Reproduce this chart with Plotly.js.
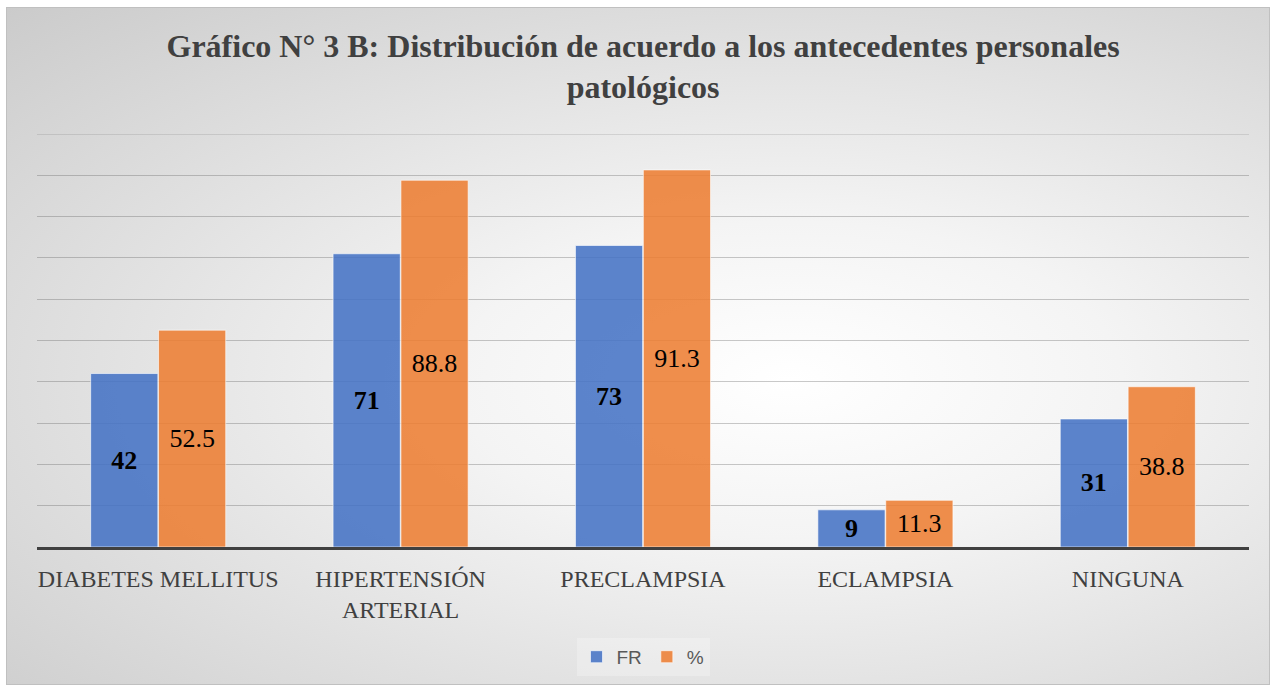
<!DOCTYPE html>
<html>
<head>
<meta charset="utf-8">
<script src="https://cdn.plot.ly/plotly-3.0.1.min.js"></script>
<style>
html,body{margin:0;padding:0;background:#ffffff;}
#wrap{position:absolute;left:6px;top:7px;width:1264px;height:678px;border:1px solid #c0c0c0;box-sizing:border-box;
background:radial-gradient(ellipse farthest-corner at 62% 55%, #ffffff 0%, #f4f4f4 30%, #cbcbcb 100%);}
#chart{position:absolute;left:0;top:0;width:1276px;height:690px;}
</style>
</head>
<body>
<div id="wrap"></div>
<div id="chart"></div>
<script>
const categories = ["DIABETES MELLITUS", "HIPERTENSIÓN<br>ARTERIAL", "PRECLAMPSIA", "ECLAMPSIA", "NINGUNA"];
const frValues = [42, 71, 73, 9, 31];
const pctValues = [52.5, 88.8, 91.3, 11.3, 38.8];
const seriesNames = ["FR", "%"];
const yMax = 100;

const serif = "Liberation Serif, Times New Roman, serif";

const traces = [
  {
    type: "bar", name: seriesNames[0], x: categories, y: frValues,
    marker: {color: "rgba(68,114,196,0.87)", line: {color: "rgba(255,255,255,0.6)", width: 1}},
    texttemplate: "<b>%{y}</b>", textposition: "inside", insidetextanchor: "middle",
    textangle: 0, constraintext: "none",
    textfont: {family: serif, size: 26, color: "#000000"},
    hoverinfo: "skip"
  },
  {
    type: "bar", name: seriesNames[1], x: categories, y: pctValues,
    marker: {color: "rgba(237,125,49,0.87)", line: {color: "rgba(255,255,255,0.6)", width: 1}},
    texttemplate: "%{y}", textposition: "inside", insidetextanchor: "middle",
    textangle: 0, constraintext: "none",
    textfont: {family: serif, size: 26, color: "#000000"},
    hoverinfo: "skip"
  }
];

const layout = {
  width: 1276, height: 690,
  paper_bgcolor: "rgba(0,0,0,0)", plot_bgcolor: "rgba(0,0,0,0)",
  margin: {l: 37, r: 27, t: 134, b: 143},
  barmode: "group", bargap: 0.44, bargroupgap: 0.01,
  title: {
    text: "Gráfico N° 3 B: Distribución de acuerdo a los antecedentes personales<br>patológicos",
    font: {family: serif, size: 32, color: "#404040", weight: "bold"},
    x: 0.504, xanchor: "center", y: 0.918, yanchor: "middle"
  },
  xaxis: {
    showline: true, linecolor: "#404040", linewidth: 3,
    showgrid: false, ticks: "", ticklabelstandoff: 8,
    tickfont: {family: serif, size: 24, color: "#404040"},
    fixedrange: true
  },
  yaxis: {
    range: [0, yMax], dtick: 10, showticklabels: false,
    showgrid: true, gridcolor: "rgba(90,90,90,0.33)", gridwidth: 1,
    zeroline: false, fixedrange: true
  },
  shapes: [
    {type: "line", xref: "paper", yref: "y", x0: 0, x1: 1, y0: yMax, y1: yMax,
     line: {color: "rgba(90,90,90,0.33)", width: 1}, layer: "below"}
  ],
  showlegend: true,
  legend: {
    orientation: "h", x: 0.5, xanchor: "center", y: -0.266, yanchor: "middle",
    font: {family: "Liberation Sans, Arial, sans-serif", size: 19, color: "#595959"},
    bgcolor: "rgba(255,255,255,0.25)", itemwidth: 30, traceorder: "normal"
  }
};

Plotly.newPlot("chart", traces, layout, {displayModeBar: false, staticPlot: true});
</script>
</body>
</html>
